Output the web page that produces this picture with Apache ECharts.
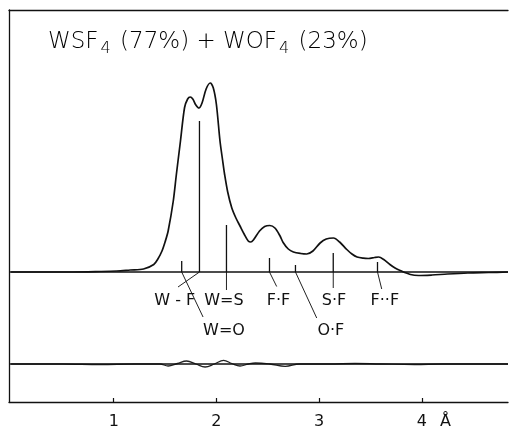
<!DOCTYPE html>
<html>
<head>
<meta charset="utf-8">
<script src="https://cdn.jsdelivr.net/npm/echarts@6/dist/echarts.min.js"></script>
<style>
html,body{margin:0;padding:0;background:#fff;}
#c{width:513px;height:430px;}
</style>
</head>
<body>
<div id="c"></div>
<script>
// Radial distribution curve (r in Å, intensity in arbitrary units)
const curveR = [0.00,0.30,0.60,0.87,1.03,1.16,1.29,1.39,1.43,1.47,1.50,1.53,1.58,1.61,1.65,1.69,1.72,1.745,1.77,1.80,1.83,1.86,1.90,1.94,1.97,2.00,2.035,2.06,2.08,2.11,2.15,2.19,2.23,2.27,2.31,2.335,2.36,2.42,2.47,2.52,2.57,2.62,2.65,2.70,2.75,2.82,2.88,2.94,3.01,3.07,3.14,3.20,3.27,3.32,3.37,3.43,3.48,3.54,3.58,3.63,3.69,3.74,3.79,3.89,3.97,4.10,4.25,4.45,4.65,4.84];
const curveV = [0,0,0,0.5,1,2,3,7.5,13,21,30,41,71,97.5,131,164.5,173,175,173,167,164,169,183,189,184,167.5,131,112,97.5,80,64,54,46,38,31,30,32,41,45.5,46.5,44,36,29.5,23,20,18.5,18,21,29,33,34,30,22.5,18,15,13.8,13.5,14.5,15,12.5,7.5,4,1.5,-2.5,-3.5,-3,-2,-1,-0.5,0];

// Difference curve (experimental - theoretical)
const diffR = [0,0.5,0.87,1.2,1.45,1.53,1.62,1.71,1.80,1.89,1.98,2.07,2.15,2.23,2.31,2.38,2.52,2.67,2.81,3.1,3.35,3.6,3.93,4.2,4.84];
const diffV = [0,0,-0.5,0,0,-2,0.5,3,0,-3,0,3.7,0.5,-2,0,1,0,-2.3,0,0,0.5,0,-0.5,0,0];

// Interatomic distances (sticks) and their relative weights
const stickLabels = ['W=O','W - F','W=S','F·F','O·F','S·F','F··F'];
const stickR = [1.662,1.835,2.098,2.517,2.770,3.138,3.569];
const stickH = [11,151,47,14,7,19,10];

// Annotation layout: leader end (r, v) and label centre (r, v)
const leaderEndR = [1.870,1.626,2.098,2.587,2.977,3.138,3.610];
const leaderEndV = [-45,-15,-18,-14.5,-46,-16,-17];
const labelR = [2.074,1.595,2.073,2.605,3.115,3.145,3.640];
const labelV = [-59,-29,-29,-29,-59,-29,-29];

const tickValues = [1,2,3,4];
const unitLabel = 'Å';
const titleText = '{n|WSF}{s|4}{n| (77%) + WOF}{s|4}{n| (23%)}';

const FONT = 'DejaVu Sans';
const chart = echarts.init(document.getElementById('c'), null, {renderer:'canvas'});

const curveData = curveR.map((r,i)=>[r,curveV[i]]);
const diffData = diffR.map((r,i)=>[r,diffV[i]]);
const stickData = stickR.map((r,i)=>[r,stickH[i]]);

const hiddenAxis = {show:false, axisLine:{show:false}, axisTick:{show:false}, axisLabel:{show:false}, splitLine:{show:false}};
const lastTick = tickValues[tickValues.length-1];

chart.setOption({
  animation:false,
  backgroundColor:'#fff',
  graphic:[{
    type:'text', left:48, top:31, silent:true,
    style:{
      text:titleText,
      rich:{
        n:{fontFamily:FONT,fontSize:23,fontWeight:'lighter',fill:'#000',color:'#000'},
        s:{fontFamily:FONT,fontSize:16,fontWeight:'lighter',fill:'#000',color:'#000',padding:[12,2,0,2]}
      }
    }
  }],
  grid:[
    {left:9,right:5,top:10,bottom:28,show:false},
    {left:9,right:5,top:10,bottom:28,show:false}
  ],
  xAxis:[{
    type:'value', gridIndex:0, min:-0.02, max:4.84,
    axisLine:{show:true,onZero:false,lineStyle:{color:'#111',width:1.3}},
    axisTick:{show:true,inside:true,length:4,customValues:tickValues,lineStyle:{color:'#111',width:1.2}},
    axisLabel:{show:true,customValues:tickValues,margin:12,fontFamily:FONT,fontSize:16,color:'#111',
      formatter:function(v){ return v===lastTick ? '{p|}{n|'+v+'}{u|'+unitLabel+'}' : '{n|'+v+'}'; },
      rich:{
        p:{width:24},
        n:{fontFamily:FONT,fontSize:16,color:'#111'},
        u:{fontFamily:FONT,fontSize:16,color:'#111',width:24,align:'right'}
      }},
    splitLine:{show:false}
  },{
    type:'value', gridIndex:0, position:'top', min:-0.02, max:4.84,
    axisLine:{show:true,onZero:false,lineStyle:{color:'#111',width:1.3}},
    axisTick:{show:false}, axisLabel:{show:false}, splitLine:{show:false}
  },Object.assign({type:'value', gridIndex:1, min:-0.02, max:4.84}, hiddenAxis)],
  yAxis:[{
    type:'value', gridIndex:0, position:'left', min:-130, max:262,
    axisLine:{show:true,onZero:false,lineStyle:{color:'#111',width:1.3}},
    axisTick:{show:false}, axisLabel:{show:false}, splitLine:{show:false}
  },Object.assign({type:'value', gridIndex:1, min:-38, max:354}, hiddenAxis)],
  series:[
    {
      type:'line', data:curveData, xAxisIndex:0, yAxisIndex:0,
      smooth:0.3, showSymbol:false, symbol:'none',
      lineStyle:{color:'#111',width:1.7},
      markLine:{silent:true,symbol:['none','none'],label:{show:false},
        lineStyle:{color:'#111',width:1.5,type:'solid'},data:[{yAxis:0}]}
    },
    {
      type:'line', data:diffData, xAxisIndex:2, yAxisIndex:1,
      smooth:0.4, showSymbol:false, symbol:'none',
      lineStyle:{color:'#222',width:1.3},
      markLine:{silent:true,symbol:['none','none'],label:{show:false},
        lineStyle:{color:'#111',width:1.5,type:'solid'},data:[{yAxis:0}]}
    },
    {
      type:'custom', xAxisIndex:0, yAxisIndex:0, data:stickData, clip:false,
      renderItem:function(params, api){
        const i = params.dataIndex;
        const r = api.value(0), h = api.value(1);
        const p0 = api.coord([r,0]);
        const p1 = api.coord([r,h]);
        const pe = api.coord([leaderEndR[i], leaderEndV[i]]);
        const pl = api.coord([labelR[i], labelV[i]]);
        return {type:'group', children:[
          {type:'line', shape:{x1:p0[0],y1:p0[1],x2:p1[0],y2:p1[1]}, style:{stroke:'#111',lineWidth:1.3}},
          {type:'line', shape:{x1:p0[0],y1:p0[1],x2:pe[0],y2:pe[1]}, style:{stroke:'#222',lineWidth:1}},
          {type:'text', x:pl[0], y:pl[1], style:{text:stickLabels[i], fontFamily:FONT, fontSize:16, fill:'#111', align:'center', verticalAlign:'middle'}}
        ]};
      }
    }
  ]
});
</script>
</body>
</html>
